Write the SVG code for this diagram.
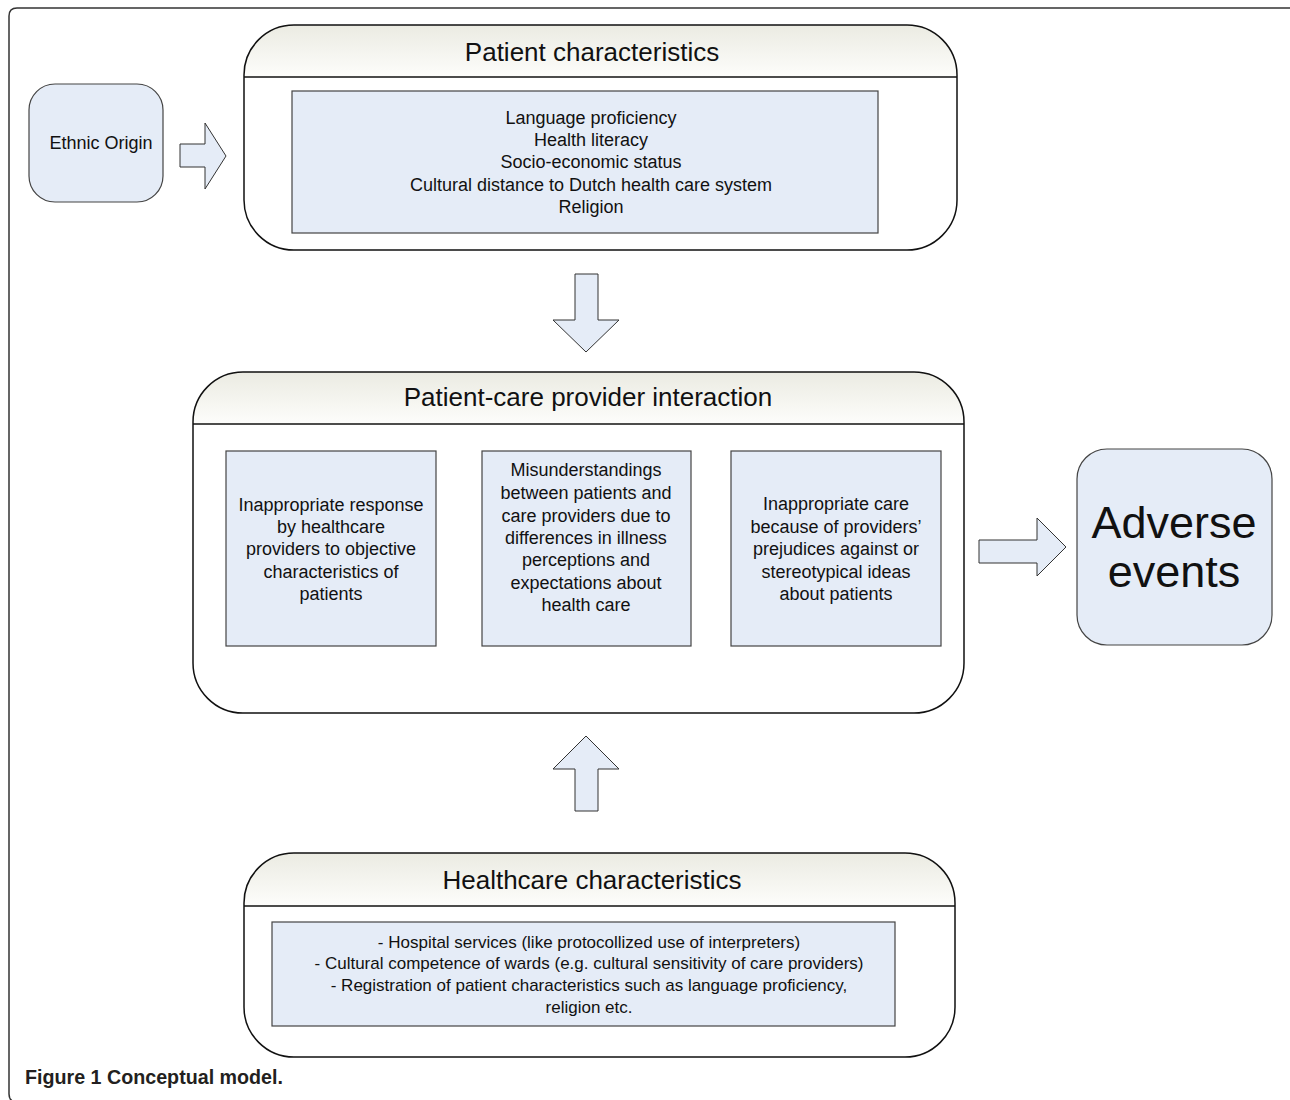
<svg xmlns="http://www.w3.org/2000/svg" width="1290" height="1100" viewBox="0 0 1290 1100">
<defs>
<linearGradient id="hdr" x1="0" y1="0" x2="0" y2="1">
<stop offset="0" stop-color="#ebebe2"/>
<stop offset="1" stop-color="#fdfdfb"/>
</linearGradient>
</defs>
<style>
text{font-family:"Liberation Sans",Arial,sans-serif;fill:#111;text-anchor:middle}
.title{font-size:26px}
.body{font-size:18px}
.hc{font-size:17px}
.box{fill:#e5ecf7;stroke:#444;stroke-width:1.2}
.cont{fill:none;stroke:#111;stroke-width:1.5}
.arrow{fill:#e5ecf7;stroke:#333;stroke-width:1}
.frame{fill:none;stroke:#333;stroke-width:1.5}
</style>
<rect width="1290" height="1100" fill="#fff"/>
<path class="frame" d="M1296 8 L17 8 Q9 8 9 16 L9 1094 Q9 1102 17 1102 L1296 1102"/>

<g id="ethnic-origin">
<rect class="box" x="29" y="84" width="134" height="118" rx="26" stroke="#333"/>
<text class="body" x="101" y="149">Ethnic Origin</text>
</g>

<g id="patient-characteristics">
<rect x="244" y="25" width="713" height="225" rx="50" fill="#fff"/>
<path d="M244 77 L244 75 A50 50 0 0 1 294 25 L907 25 A50 50 0 0 1 957 75 L957 77 Z" fill="url(#hdr)"/>
<line x1="244" y1="77" x2="957" y2="77" stroke="#111" stroke-width="1.5"/>
<rect class="cont" x="244" y="25" width="713" height="225" rx="50"/>
<text class="title" x="592" y="61">Patient characteristics</text>
<rect class="box" x="292" y="91" width="586" height="142"/>
<text class="body" x="591" y="124">Language proficiency</text>
<text class="body" x="591" y="146">Health literacy</text>
<text class="body" x="591" y="168">Socio-economic status</text>
<text class="body" x="591" y="191">Cultural distance to Dutch health care system</text>
<text class="body" x="591" y="213">Religion</text>
</g>

<g id="interaction">
<rect x="193" y="372" width="771" height="341" rx="50" fill="#fff"/>
<path d="M193 424 L193 422 A50 50 0 0 1 243 372 L914 372 A50 50 0 0 1 964 422 L964 424 Z" fill="url(#hdr)"/>
<line x1="193" y1="424" x2="964" y2="424" stroke="#111" stroke-width="1.5"/>
<rect class="cont" x="193" y="372" width="771" height="341" rx="50"/>
<text class="title" x="588" y="406">Patient-care provider interaction</text>
</g>

<g id="response">
<rect class="box" x="226" y="451" width="210" height="195"/>
<text class="body" x="331" y="511">Inappropriate response</text>
<text class="body" x="331" y="533">by healthcare</text>
<text class="body" x="331" y="555">providers to objective</text>
<text class="body" x="331" y="578">characteristics of</text>
<text class="body" x="331" y="600">patients</text>
</g>

<g id="misunderstandings">
<rect class="box" x="482" y="451" width="209" height="195"/>
<text class="body" x="586" y="476">Misunderstandings</text>
<text class="body" x="586" y="499">between patients and</text>
<text class="body" x="586" y="522">care providers due to</text>
<text class="body" x="586" y="544">differences in illness</text>
<text class="body" x="586" y="566">perceptions and</text>
<text class="body" x="586" y="589">expectations about</text>
<text class="body" x="586" y="611">health care</text>
</g>

<g id="inappropriate-care">
<rect class="box" x="731" y="451" width="210" height="195"/>
<text class="body" x="836" y="510">Inappropriate care</text>
<text class="body" x="836" y="533">because of providers’</text>
<text class="body" x="836" y="555">prejudices against or</text>
<text class="body" x="836" y="578">stereotypical ideas</text>
<text class="body" x="836" y="600">about patients</text>
</g>

<g id="adverse-events">
<rect class="box" x="1077" y="449" width="195" height="196" rx="30" stroke="#333"/>
<text x="1174" y="538" style="font-size:45px">Adverse</text>
<text x="1174" y="587" style="font-size:45px">events</text>
</g>

<g id="healthcare-characteristics">
<rect x="244" y="853" width="711" height="204" rx="50" fill="#fff"/>
<path d="M244 906 L244 903 A50 50 0 0 1 294 853 L905 853 A50 50 0 0 1 955 903 L955 906 Z" fill="url(#hdr)"/>
<line x1="244" y1="906" x2="955" y2="906" stroke="#111" stroke-width="1.5"/>
<rect class="cont" x="244" y="853" width="711" height="204" rx="50"/>
<text class="title" x="592" y="889">Healthcare characteristics</text>
<rect class="box" x="272" y="922" width="623" height="104"/>
<text class="hc" x="589" y="948">- Hospital services (like protocollized use of interpreters)</text>
<text class="hc" x="589" y="969">- Cultural competence of wards (e.g. cultural sensitivity of care providers)</text>
<text class="hc" x="589" y="991">- Registration of patient characteristics such as language proficiency,</text>
<text class="hc" x="589" y="1013">religion etc.</text>
</g>

<g id="connectors">
<polygon class="arrow" points="180,144 205,144 205,123 226,156 205,189 205,167 180,167"/>
<polygon class="arrow" points="575,274 598,274 598,320 619,320 586,352 553,320 575,320"/>
<polygon class="arrow" points="586,736 619,769 598,769 598,811 575,811 575,769 553,769"/>
<polygon class="arrow" points="979,540 1037,540 1037,518 1066,547 1037,576 1037,563 979,563"/>
</g>

<text x="25" y="1084" style="font-size:20px;font-weight:bold;text-anchor:start;fill:#231f20" textLength="258" lengthAdjust="spacingAndGlyphs">Figure 1 Conceptual model.</text>
</svg>
